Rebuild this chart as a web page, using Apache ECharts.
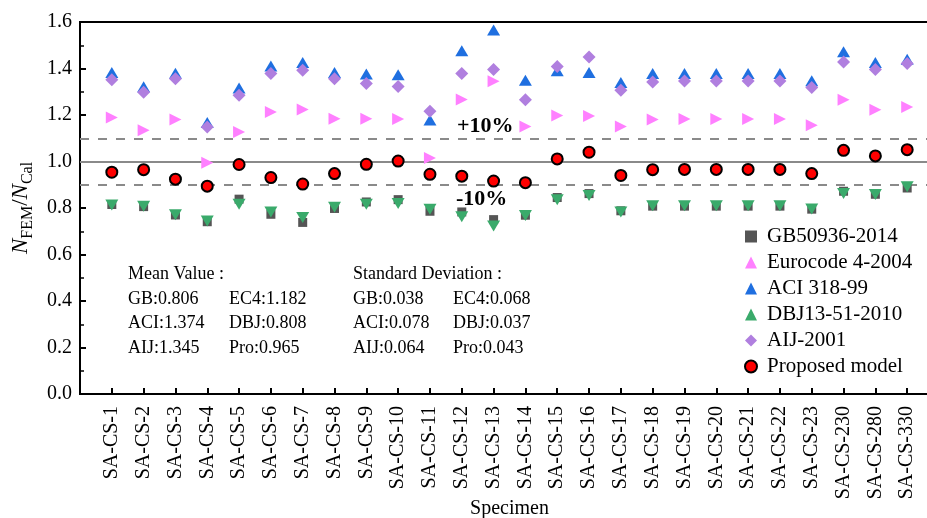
<!DOCTYPE html>
<html><head><meta charset="utf-8">
<script src="https://cdn.jsdelivr.net/npm/echarts@6/dist/echarts.min.js"></script>
<style>html,body{margin:0;padding:0;background:#fff}#c{width:927px;height:518px}</style>
</head><body><div id="c"></div>
<script>
const categories = ['SA-CS-1','SA-CS-2','SA-CS-3','SA-CS-4','SA-CS-5','SA-CS-6','SA-CS-7','SA-CS-8','SA-CS-9','SA-CS-10','SA-CS-11','SA-CS-12','SA-CS-13','SA-CS-14','SA-CS-15','SA-CS-16','SA-CS-17','SA-CS-18','SA-CS-19','SA-CS-20','SA-CS-21','SA-CS-22','SA-CS-23','SA-CS-230','SA-CS-280','SA-CS-330'];
const gb  = [0.815,0.806,0.770,0.741,0.838,0.773,0.738,0.798,0.826,0.836,0.786,0.783,0.750,0.769,0.845,0.862,0.788,0.808,0.808,0.808,0.808,0.808,0.795,0.872,0.859,0.886];
const ec4 = [1.189,1.134,1.181,0.995,1.127,1.213,1.224,1.184,1.184,1.183,1.015,1.267,1.345,1.151,1.198,1.196,1.151,1.181,1.183,1.183,1.183,1.183,1.156,1.266,1.223,1.234];
const aci = [1.383,1.321,1.380,1.168,1.316,1.411,1.426,1.383,1.376,1.373,1.179,1.476,1.566,1.350,1.390,1.383,1.340,1.378,1.378,1.378,1.378,1.378,1.347,1.472,1.426,1.440];
const dbj = [0.813,0.808,0.771,0.744,0.816,0.783,0.759,0.803,0.816,0.819,0.795,0.762,0.723,0.768,0.836,0.854,0.783,0.810,0.810,0.810,0.810,0.810,0.796,0.862,0.858,0.891];
const aij = [1.352,1.298,1.356,1.148,1.285,1.378,1.392,1.356,1.335,1.323,1.216,1.378,1.396,1.266,1.409,1.449,1.306,1.342,1.346,1.346,1.346,1.346,1.318,1.428,1.396,1.421];
const pro = [0.954,0.965,0.924,0.894,0.987,0.931,0.903,0.948,0.988,1.002,0.945,0.937,0.916,0.909,1.011,1.040,0.940,0.965,0.966,0.966,0.966,0.966,0.948,1.048,1.024,1.051];
const seriesNames = ['GB50936-2014','Eurocode 4-2004','ACI 318-99','DBJ13-51-2010','AIJ-2001','Proposed model'];
const refLines = [1.1, 1.0, 0.9];
const bandLabels = ['+10%', '-10%'];
const meanTitle = 'Mean Value :';
const meanRows = [['GB:0.806','EC4:1.182'],['ACI:1.374','DBJ:0.808'],['AIJ:1.345','Pro:0.965']];
const sdTitle = 'Standard Deviation :';
const sdRows = [['GB:0.038','EC4:0.068'],['ACI:0.078','DBJ:0.037'],['AIJ:0.064','Pro:0.043']];

const FONT = "'Liberation Serif','Times New Roman',serif";
const pts = arr => arr.map((v, i) => [i + 1, v]);
const positions = categories.map((_, i) => i + 1);

const chart = echarts.init(document.getElementById('c'), null, {renderer: 'canvas'});

const styles = [
  {symbol: 'rect', symbolSize: 9, color: '#555555'},
  {symbol: 'triangle', symbolSize: [12, 12], symbolRotate: -90, color: '#FF80FF'},
  {symbol: 'triangle', symbolSize: [13, 11], color: '#1F6FE0'},
  {symbol: 'triangle', symbolSize: [13, 11], symbolRotate: 180, color: '#3AAA6B'},
  {symbol: 'diamond', symbolSize: 13, color: '#B07FDF'},
  {symbol: 'circle', symbolSize: 11, color: '#FF0000', border: true}
];
const datas = [gb, ec4, aci, dbj, aij, pro];

const series = datas.map((d, k) => {
  const s = styles[k];
  const o = {
    name: seriesNames[k], type: 'scatter', data: pts(d),
    symbol: s.symbol, symbolSize: s.symbolSize, z: 3,
    itemStyle: {color: s.color, opacity: 1, borderColor: s.border ? '#000' : null, borderWidth: s.border ? 2 : 0}
  };
  if (s.symbolRotate) o.symbolRotate = s.symbolRotate;
  return o;
});
series[0].markLine = {
  silent: true, symbol: 'none', z: 1, label: {show: false},
  data: refLines.map(v => ({yAxis: v, lineStyle: {color: '#8a8a8a', width: 2, type: v === 1 ? 'solid' : [9, 9]}}))
};

const graphics = [];
function txt(text, x, y, size, bold) {
  graphics.push({type: 'text', z: 10, style: {text, x, y, fill: '#000', fontFamily: FONT, fontSize: size, fontWeight: bold ? 'bold' : 'normal', verticalAlign: 'middle', align: 'left'}});
}
txt(bandLabels[0], 457, 126, 22, true);
txt(bandLabels[1], 456, 199, 22, true);
txt(meanTitle, 128, 274, 18);
meanRows.forEach((r, i) => { txt(r[0], 128, 299 + i * 24.5, 18); txt(r[1], 229, 299 + i * 24.5, 18); });
txt(sdTitle, 353, 274, 18);
sdRows.forEach((r, i) => { txt(r[0], 353, 299 + i * 24.5, 18); txt(r[1], 453, 299 + i * 24.5, 18); });

chart.setOption({
  animation: false,
  textStyle: {fontFamily: FONT},
  grid: {left: 80, top: 22, width: 859, height: 372, show: true, borderColor: '#000', borderWidth: 2,
    backgroundColor: 'transparent', containLabel: false, outerBoundsMode: 'none'},
  xAxis: {
    type: 'value', min: 0, max: categories.length + 1, interval: 1,
    name: 'Specimen', nameLocation: 'middle', nameGap: 105, nameMoveOverlap: false,
    nameTextStyle: {fontFamily: FONT, fontSize: 20, color: '#000'},
    axisLine: {show: true, lineStyle: {color: '#000', width: 2}},
    axisTick: {show: true, inside: true, length: 6, lineStyle: {color: '#000', width: 2}, customValues: positions},
    axisLabel: {rotate: 90, margin: 12, fontFamily: FONT, fontSize: 20, color: '#000', customValues: positions,
      formatter: v => categories[Math.round(v) - 1] || ''},
    splitLine: {show: false}
  },
  yAxis: {
    type: 'value', min: 0, max: 1.6, interval: 0.2,
    name: '{i|N}{s|FEM}{t|/}{i|N}{s|Cal}', nameLocation: 'middle', nameGap: 44, nameRotate: 90,
    nameTextStyle: {color: '#000', rich: {
      i: {fontFamily: FONT, fontStyle: 'italic', fontSize: 23, lineHeight: 30, color: '#000'},
      t: {fontFamily: FONT, fontSize: 23, lineHeight: 30, color: '#000'},
      s: {fontFamily: FONT, fontSize: 16, lineHeight: 30, verticalAlign: 'bottom', color: '#000'}
    }},
    axisLine: {show: true, lineStyle: {color: '#000', width: 2}},
    axisTick: {show: true, inside: true, length: 6, lineStyle: {color: '#000', width: 2}},
    minorTick: {show: true, splitNumber: 2, length: 4, lineStyle: {color: '#000', width: 1.5}},
    axisLabel: {margin: 8, fontFamily: FONT, fontSize: 20, color: '#000', formatter: v => v.toFixed(1)},
    splitLine: {show: false}
  },
  legend: {
    orient: 'vertical', left: 739, top: 221, itemGap: 5, itemWidth: 12, itemHeight: 12,
    textStyle: {fontFamily: FONT, fontSize: 21, lineHeight: 21, color: '#000', padding: [0, 0, 0, 5]},
    data: seriesNames
  },
  series,
  graphic: graphics
});
</script></body></html>
